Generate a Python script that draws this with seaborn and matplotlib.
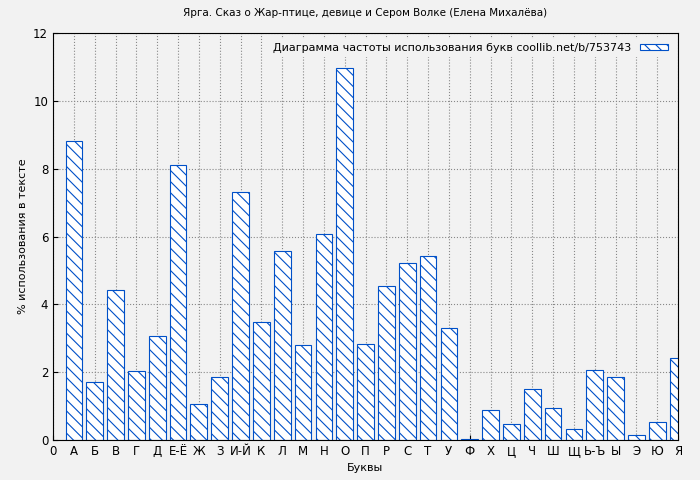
import matplotlib
matplotlib.use("Agg")
import matplotlib.pyplot as plt
import seaborn as sns
import pandas as pd

tick_labels = ["0","А","Б","В","Г","Д","Е-Ё","Ж","З","И-Й","К","Л","М","Н","О","П","Р","С","Т","У","Ф","Х","Ц","Ч","Ш","Щ","Ь-Ъ","Ы","Э","Ю","Я"]
letters = tick_labels[1:]
values = [8.83,1.72,4.42,2.02,3.08,8.1,1.05,1.85,7.3,3.47,5.57,2.8,6.08,10.98,2.82,4.55,5.23,5.42,3.3,0.03,0.88,0.47,1.5,0.93,0.32,2.05,1.85,0.14,0.53,2.43]
positions = list(range(1, len(letters)+1))

plt.rcParams['hatch.color'] = '#0050c8'
plt.rcParams['hatch.linewidth'] = 0.8
fig = plt.figure(figsize=(7, 4.8), dpi=100, facecolor='#f2f2f2')
ax = fig.add_axes([53/700, 40/480, 625/700, 407/480])
ax.set_facecolor('#f2f2f2')
df = pd.DataFrame({"pos": positions, "val": values})
sns.barplot(data=df, x="pos", y="val", native_scale=True, width=0.8, ax=ax,
            color='white', edgecolor='#0050c8', linewidth=0.8, hatch='\\\\\\',
            label='Диаграмма частоты использования букв coollib.net/b/753743')
ax.set_xlim(0, 30)
ax.set_ylim(0, 12)
ax.set_xticks(range(0, 31))
ax.set_xticklabels(tick_labels, fontsize=8)
ax.set_yticks(range(0, 13, 2))
ax.tick_params(labelsize=8.5, direction='in')
ax.grid(True, color='#888888', linestyle=':', linewidth=0.8)
ax.set_axisbelow(True)
for s in ax.spines.values():
    s.set_color('black')
ax.set_xlabel('Буквы', fontsize=8)
ax.set_ylabel('% использования в тексте', fontsize=8)
ax.set_title('Ярга. Сказ о Жар-птице, девице и Сером Волке (Елена Михалёва)', fontsize=7.5, pad=12)
leg = ax.legend(loc='upper right', fontsize=8, frameon=True, facecolor='#f2f2f2', edgecolor='none',
                framealpha=1, handlelength=2.5, handleheight=0.4, markerfirst=False)
fig.savefig('out.png', dpi=100, facecolor='#f2f2f2')
